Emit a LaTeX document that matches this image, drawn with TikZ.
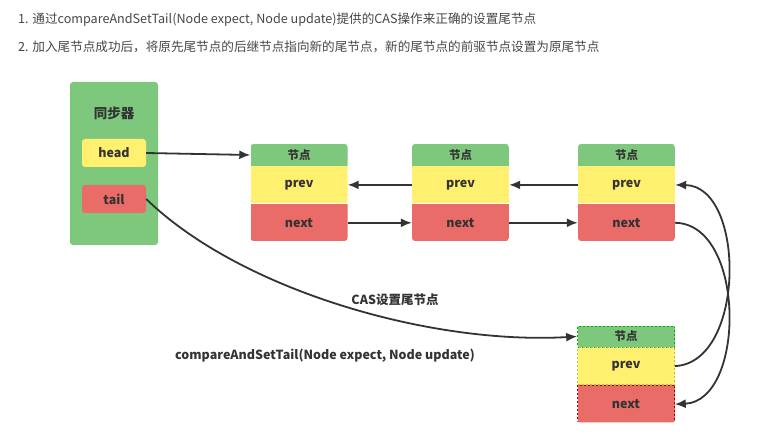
\documentclass[tikz,border=0pt]{standalone}
\usepackage{fontspec}
\setmainfont{Noto Sans CJK SC}
\usetikzlibrary{arrows.meta,positioning}
\definecolor{nodegreen}{RGB}{126,200,126}
\definecolor{nodeyellow}{RGB}{255,240,112}
\definecolor{nodered}{RGB}{234,108,104}
\definecolor{linegray}{RGB}{51,51,51}
\definecolor{textgray}{RGB}{70,70,70}
\tikzset{
  syncbox/.style={fill=nodegreen, rounded corners=3pt, minimum width=88pt, minimum height=163pt, inner sep=0pt},
  ptrbox/.style={rounded corners=3pt, minimum width=64pt, minimum height=28pt, inner sep=0pt, font=\bfseries\fontsize{12.5}{14}\selectfont, text=linegray},
  hdr/.style={fill=nodegreen, minimum width=97pt, minimum height=22pt, inner sep=0pt, font=\bfseries\fontsize{11.5}{13}\selectfont, text=linegray},
  prevfield/.style={fill=nodeyellow, minimum width=97pt, minimum height=37pt, inner sep=0pt, font=\bfseries\fontsize{12.5}{14}\selectfont, text=linegray},
  nextfield/.style={fill=nodered, minimum width=97pt, minimum height=38pt, inner sep=0pt, font=\bfseries\fontsize{12.5}{14}\selectfont, text=linegray},
  dashpart/.style={draw=#1, dash pattern=on 2pt off 2pt, line width=0.6pt},
  arrow/.style={-{Latex[length=11pt,width=9pt]}, line width=1.8pt, draw=linegray},
  lbl/.style={font=\bfseries\fontsize{12.5}{14}\selectfont, text=linegray, inner sep=1pt},
  toptext/.style={font=\fontsize{12.6}{15}\selectfont, text=textgray, inner sep=0pt, anchor=west}
}

\begin{document}
\begin{tikzpicture}[x=1pt, y=-1pt]
  \useasboundingbox (0,0) rectangle (761,435);
  \node[toptext] (line1) at (18,20) {1. 通过compareAndSetTail(Node expect, Node update)提供的CAS操作来正确的设置尾节点};
  \node[toptext] (line2) at (18,47) {2. 加入尾节点成功后，将原先尾节点的后继节点指向新的尾节点，新的尾节点的前驱节点设置为原尾节点};

  % synchronizer
  \node[syncbox] (sync) at (114,163.5) {};
  \node[lbl, font=\bfseries\fontsize{13.5}{15}\selectfont] (synctitle) at (114,113) {同步器};
  \node[ptrbox, fill=nodeyellow] (head) at (114,153) {head};
  \node[ptrbox, fill=nodered] (tail) at (114,199) {tail};

  % queue nodes
  \foreach \i/\x in {1/299,2/460.5,3/626.5}{
    \begin{scope}
      \clip[rounded corners=3pt] (\x-48.5,144) rectangle (\x+48.5,241);
      \node[hdr] (h\i) at (\x,155) {节点};
      \node[prevfield, below=0pt of h\i] (p\i) {prev};
      \node[nextfield, below=0pt of p\i] (n\i) {next};
    \end{scope}
  }

  % new tail node
  \begin{scope}
    \clip[rounded corners=3pt] (576.5,325.5) rectangle (675.5,422.5);
    \node[hdr, minimum height=21pt, dashpart=green!70!black] (h4) at (626,336.5) {节点};
    \node[prevfield, below=0pt of h4, dashpart=yellow!75!black] (p4) {prev};
    \node[nextfield, below=0pt of p4, dashpart=red!60!black] (n4) {next};
  \end{scope}

  \draw[arrow] (head.east) -- (h1.west);
  \draw[arrow] (p2.west) -- (p1.east);
  \draw[arrow] (p3.west) -- (p2.east);
  \draw[arrow] (n1.east) -- (n2.west);
  \draw[arrow] (n2.east) -- (n3.west);
  \draw[arrow] (tail.east) .. controls (240,290) and (430,345) .. (h4.west);
  \draw[arrow] (n3.east) .. controls (746,224) and (746,401) .. (n4.east);
  \draw[arrow] (p4.east) .. controls (746,363) and (746,186) .. (p3.east);

  \node[lbl] (caslbl) at (395,300) {CAS设置尾节点};
  \node[lbl] (casfn) at (325,356) {compareAndSetTail(Node expect, Node update)};
\end{tikzpicture}
\end{document}
